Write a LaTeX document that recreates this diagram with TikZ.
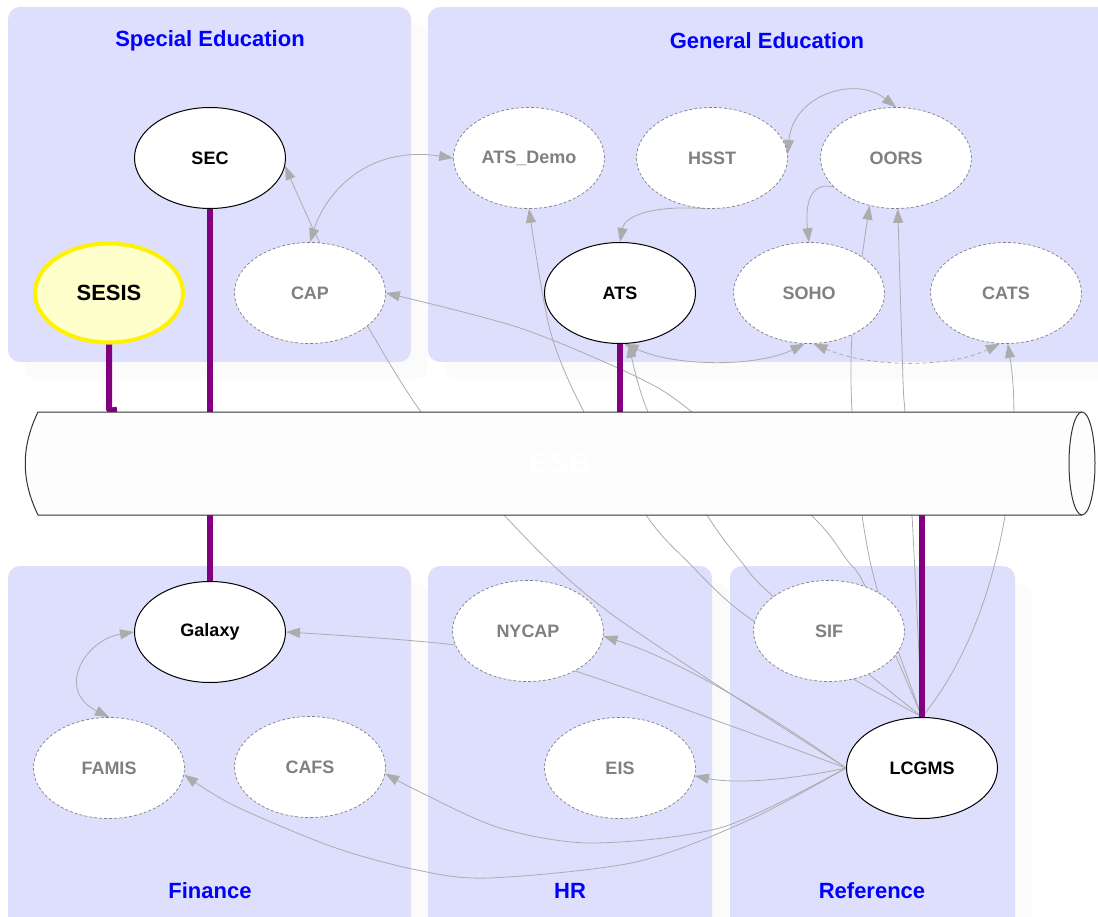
\documentclass[tikz,border=0pt]{standalone}
\usepackage{fontspec}
\setmainfont{Liberation Sans}
\usepackage{xcolor}
\usepackage{tikz}
\usetikzlibrary{arrows.meta,positioning,shapes.geometric,calc}
\definecolor{groupfill}{RGB}{222,222,253}
\definecolor{groupshade}{RGB}{251,251,251}
\definecolor{linkgray}{RGB}{172,172,172}
\definecolor{idlegray}{RGB}{128,128,128}
\definecolor{buspurple}{RGB}{128,0,128}
\definecolor{sesisfill}{RGB}{255,255,204}
\definecolor{esbfill}{RGB}{253,253,253}
\pgfdeclarelayer{bg}
\pgfdeclarelayer{edges}
\pgfsetlayers{bg,edges,main}

\begin{document}
\begin{tikzpicture}[x=1pt, y=-1pt,
  every node/.style={font=\fontsize{18}{20}\selectfont\bfseries},
  app/.style={ellipse, fill=white, minimum width=151pt, minimum height=101pt, inner sep=0pt},
  live/.style={app, draw=black, line width=1pt},
  idle/.style={app, draw=idlegray, line width=0.7pt, dash pattern=on 3pt off 2pt, text=idlegray},
  group/.style={fill=groupfill, rounded corners=12pt},
  groupshadow/.style={fill=groupshade, rounded corners=12pt},
  grouptitle/.style={text=blue, font=\fontsize{22}{24}\selectfont\bfseries},
  link/.style={draw=linkgray, line width=0.8pt, -{Triangle[length=14pt,width=10pt]}},
  bilink/.style={link, {Triangle[length=14pt,width=10pt]}-{Triangle[length=14pt,width=10pt]}},
  bus/.style={draw=buspurple, line width=6pt}]
  \useasboundingbox (0,0) rectangle (1098,917);

  \begin{pgfonlayer}{bg}
    \fill[groupshadow] (25,24) rectangle (428,379);
    \fill[groupshadow] (445,24) rectangle (1115,379);
    \fill[groupshadow] (25,583) rectangle (428,934);
    \fill[groupshadow] (445,583) rectangle (729,934);
    \fill[groupshadow] (747,583) rectangle (1032,934);
    \fill[group] (8,7) rectangle (411,362);
    \fill[group] (428,7) rectangle (1110,362);
    \fill[group] (8,566) rectangle (411,930);
    \fill[group] (428,566) rectangle (712,930);
    \fill[group] (730,566) rectangle (1015,930);
  \end{pgfonlayer}

  \node[grouptitle] (spedtitle) at (210,41) {Special Education};
  \node[grouptitle] (gentitle) at (767,41) {General Education};
  \node[grouptitle] (fintitle) at (210,891) {Finance};
  \node[grouptitle] (hrtitle) at (570,891) {HR};
  \node[grouptitle] (reftitle) at (872,891) {Reference};

  % the bus
  \fill[esbfill] (38,412) -- (1082,412) -- (1082,515) -- (38,515) .. controls (21,480) and (21,447) .. cycle;
  \draw[black!80, line width=1pt] (1082,412) -- (38,412) .. controls (21,447) and (21,480) .. (38,515) -- (1082,515);
  \filldraw[fill=esbfill, draw=black!80, line width=1pt] (1082,463.5) ellipse [x radius=13, y radius=51.5];
  \node[minimum width=1044pt, minimum height=103pt, inner sep=0pt, text=white,
    font=\fontsize{30}{32}\selectfont\bfseries] (esb) at (560,463.5) {ESB};

  \node[live] (sec) at (210,158) {SEC};
  \node[app, draw=yellow, line width=4pt, fill=sesisfill, minimum width=148pt, minimum height=99pt,
    font=\fontsize{22}{24}\selectfont\bfseries] (sesis) at (109,293) {SESIS};
  \node[idle] (cap) at (310,293) {CAP};
  \node[idle] (atsdemo) at (529,158) {ATS\_Demo};
  \node[idle] (hsst) at (712,158) {HSST};
  \node[idle] (oors) at (896,158) {OORS};
  \node[live] (ats) at (620,293) {ATS};
  \node[idle] (soho) at (809,293) {SOHO};
  \node[idle] (cats) at (1006,293) {CATS};
  \node[live] (galaxy) at (210,632) {Galaxy};
  \node[idle] (famis) at (109,768) {FAMIS};
  \node[idle] (cafs) at (310,767) {CAFS};
  \node[idle] (nycap) at (528,631) {NYCAP};
  \node[idle] (eis) at (620,768) {EIS};
  \node[idle] (sif) at (829,631) {SIF};
  \node[live] (lcgms) at (922,768) {LCGMS};

  \begin{pgfonlayer}{edges}
    \draw[bilink] (cap.north) .. controls (325,195) and (365,145) .. (atsdemo.west);
    \draw[bilink] (hsst.3) .. controls (793,95) and (855,75) .. (oors.north);
    \draw[link] (hsst.-97) .. controls (655,205) and (625,215) .. (ats.north);
    \draw[link] (oors.-155) .. controls (805,180) and (806,215) .. (soho.north);
    \draw[bilink] (ats.-85) .. controls (680,368) and (760,366) .. (soho.-95);
    \draw[bilink, dash pattern=on 4pt off 3pt] (soho.-85) .. controls (870,368) and (950,368) .. (cats.-97);
    \draw[bilink] (galaxy.west) .. controls (85,640) and (55,690) .. (famis.north);

    \draw[link] plot[smooth] coordinates {(lcgms.west) (610,613) (504,515) (421,412) (368,327) (320,243) (sec.-6)};
    \draw[link] plot[smooth] coordinates {(lcgms.north) (755,622) (686,560) (646,515) (584,412) (550,330) (atsdemo.south)};
    \draw[link] plot[smooth] coordinates {(lcgms.north) (775,598) (740,560) (707,515) (648,412) (ats.-80)};
    \draw[link] plot[smooth] coordinates {(lcgms.north) (866,588) (847,560) (811,515) (692,412) (637,377) (520,328) (cap.east)};
    \draw[link] plot[smooth] coordinates {(lcgms.north) (878,592) (862,515) (852,412) (852,335) (862,257) (oors.-119)};
    \draw[link] plot[smooth] coordinates {(lcgms.north) (912,515) (905,412) (903,380) (oors.-88)};
    \draw[link] (lcgms.north) .. controls (1010,610) and (1022,430) .. (cats.-88);

    \draw[link] plot[smooth] coordinates {(lcgms.west) (578,672) (455,645) (galaxy.east)};
    \draw[link] (lcgms.west) .. controls (770,715) and (680,660) .. (nycap.-4);
    \draw[link] (lcgms.west) .. controls (800,778) and (740,785) .. (eis.-6);
    \draw[link] plot[smooth] coordinates {(lcgms.west) (723,827) (593,843) (500,828) (420,792) (cafs.-5)};
    \draw[link] plot[smooth] coordinates {(lcgms.west) (749,820) (636,862) (489,878) (417,870) (333,847) (233,805) (famis.-5)};

    \draw[bus] (sec.south) -- (sec.south |- esb.north);
    \draw[bus] (ats.south) -- (ats.south |- esb.north);
    \draw[bus] (galaxy.north) -- (galaxy.north |- esb.south);
    \draw[bus] (lcgms.north) -- (lcgms.north |- esb.south);
    \draw[bus] (sesis.south) -- ($(sesis.south |- esb.north)+(0,-5)$)
      .. controls ($(sesis.south |- esb.north)+(0,-1)$) .. ($(sesis.south |- esb.north)+(8,-2)$);
  \end{pgfonlayer}
\end{tikzpicture}
\end{document}
